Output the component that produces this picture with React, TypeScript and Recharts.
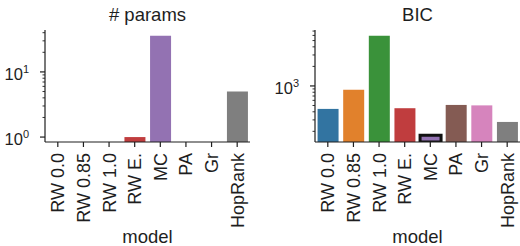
import { BarChart, Bar, Cell, XAxis, YAxis } from "recharts";

const models = ["RW 0.0", "RW 0.85", "RW 1.0", "RW E.", "MC", "PA", "Gr", "HopRank"];
// 0 means nothing is drawn on the log axis
const paramCounts = [0, 0, 0, 1, 36, 0, 0, 5];
const bicValues = [443, 877, 5940, 454, 174, 510, 502, 279];
const barColors = ["#3274a1", "#e1812c", "#3a923a", "#c03d3e", "#9372b2", "#845b53", "#d684bd", "#7f7f7f"];
const paramTicks = [1, 2, 3, 4, 5, 6, 7, 8, 9, 10, 20, 30, 40];
const bicTicks = [200, 300, 400, 500, 600, 700, 800, 900, 1000, 2000, 3000, 4000, 5000, 6000, 7000];

const INK = "#1e1e1e";
const FONT = "'Liberation Sans', Arial, sans-serif";

function LogTick({ x, y, payload }: any) {
  const exp = Math.log10(payload.value);
  const major = Math.abs(exp - Math.round(exp)) < 1e-9;
  return (
    <g>
      <line x1={x} x2={x - (major ? 5 : 2.5)} y1={y} y2={y} stroke={INK} strokeWidth={major ? 1.2 : 0.9} />
      {major && (
        <text x={x - 16} y={y + 8} textAnchor="end" fontSize={16.5} fill={INK} fontFamily={FONT}>
          10
          <tspan dy={-7} fontSize={11}>
            {Math.round(exp)}
          </tspan>
        </text>
      )}
    </g>
  );
}

function ModelTick({ x, y, payload }: any) {
  return (
    <g>
      <line x1={x} x2={x} y1={y} y2={y + 5} stroke={INK} strokeWidth={1.2} />
      <text
        transform={`translate(${x + 6.5},${y + 11}) rotate(-90)`}
        textAnchor="end"
        fontSize={18}
        fill={INK}
        fontFamily={FONT}
      >
        {payload.value}
      </text>
    </g>
  );
}

function Panel({
  title,
  values,
  domain,
  ticks,
  axisWidth,
  rightMargin,
  outlined,
}: {
  title: string;
  values: number[];
  domain: [number, number];
  ticks: number[];
  axisWidth: number;
  rightMargin: number;
  outlined?: number;
}) {
  const data = models.map((m, i) => ({ model: m, value: values[i] > 0 ? values[i] : null }));
  const plotCenter = axisWidth + (260 - axisWidth - rightMargin) / 2;

  return (
    <div style={{ position: "relative", width: 260, height: 246 }}>
      <div
        style={{
          position: "absolute",
          top: 4,
          left: plotCenter - 60,
          width: 120,
          textAlign: "center",
          fontSize: 18.5,
          color: INK,
          fontFamily: FONT,
        }}
      >
        {title}
      </div>
      <BarChart
        width={260}
        height={246}
        data={data}
        margin={{ top: 30, right: rightMargin, bottom: 0, left: 0 }}
        barCategoryGap="10%"
      >
        <XAxis
          dataKey="model"
          interval={0}
          height={104}
          tickSize={0}
          tickMargin={0}
          tick={<ModelTick />}
          axisLine={{ stroke: INK, strokeWidth: 1.2 }}
          label={{ value: "model", position: "insideBottom", offset: 3, fontSize: 18.5, fill: INK, fontFamily: FONT }}
        />
        <YAxis
          type="number"
          scale="log"
          domain={domain}
          allowDataOverflow
          ticks={ticks}
          interval={0}
          width={axisWidth}
          tickSize={0}
          tickMargin={0}
          tick={<LogTick />}
          axisLine={{ stroke: INK, strokeWidth: 1.2 }}
        />
        <Bar dataKey="value" isAnimationActive={false}>
          {data.map((_, i) => (
            <Cell
              key={i}
              fill={barColors[i]}
              stroke={i === outlined ? "#111" : "none"}
              strokeWidth={i === outlined ? 3 : 0}
            />
          ))}
        </Bar>
      </BarChart>
    </div>
  );
}

export default function App() {
  return (
    <div style={{ position: "absolute", left: 0, top: 0, display: "flex", width: 520, height: 246, background: "#fff" }}>
      <Panel title="# params" values={paramCounts} domain={[0.84, 44]} ticks={paramTicks} axisWidth={45} rightMargin={10} />
      <Panel title="BIC" values={bicValues} domain={[137, 7270]} ticks={bicTicks} axisWidth={55} rightMargin={0} outlined={4} />
    </div>
  );
}
